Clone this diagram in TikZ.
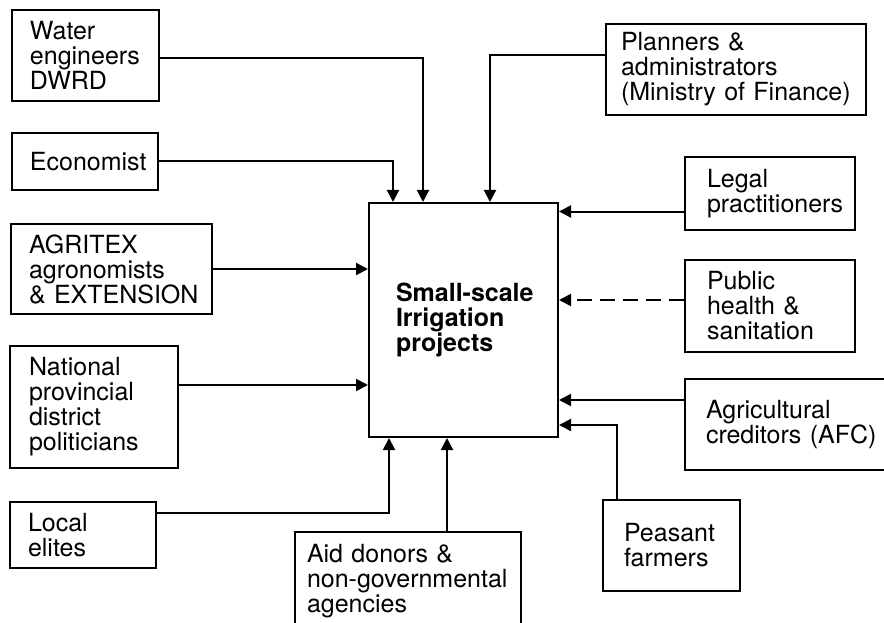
\documentclass[tikz,border=0pt]{standalone}
\usepackage{fontspec}
\setmainfont{TeX Gyre Heros}
\usetikzlibrary{arrows.meta}

\begin{document}
\begin{tikzpicture}[x=1pt,y=-1pt,line width=2pt,
    box/.style={draw,rectangle,anchor=north west,align=left,inner ysep=0pt,
      font=\fontsize{25}{25}\selectfont,
      execute at begin node={\hyphenpenalty=10000\exhyphenpenalty=10000}},
    feed/.style={-{Triangle[length=12pt,width=12pt]}}]
  \useasboundingbox (0,0) rectangle (884,623);

  % the projects in the middle
  \node[box,font=\fontsize{25}{25}\selectfont\bfseries,
        minimum width=189pt,minimum height=234pt,inner xsep=27pt,text width=135pt]
        (proj) at (368,202) {Small-scale\\Irrigation\\projects};

  % left column
  \node[box,minimum width=147pt,minimum height=91pt,inner xsep=18pt,text width=111pt]
        (water) at (11,9) {Water\\engineers\\DWRD};
  \node[box,minimum width=146pt,minimum height=57pt,inner xsep=18pt,text width=110pt]
        (econ) at (11,132) {Economist};
  \node[box,minimum width=201pt,minimum height=90pt,inner xsep=18pt,text width=165pt]
        (agri) at (10,223) {AGRITEX\\agronomists\\\&~EXTENSION};
  \node[box,minimum width=168pt,minimum height=122pt,inner xsep=19pt,text width=130pt]
        (nat) at (9,345) {National\\provincial\\district\\politicians};
  \node[box,minimum width=146pt,minimum height=66pt,inner xsep=18pt,text width=110pt]
        (local) at (9,501) {Local\\elites};

  % bottom
  \node[box,minimum width=226pt,minimum height=99pt,inner xsep=12pt,text width=202pt]
        (aid) at (294,531) {Aid~donors~\&\\non-governmental\\agencies};
  \node[box,minimum width=137pt,minimum height=91pt,inner xsep=21pt,text width=95pt]
        (peas) at (602,499) {Peasant\\farmers};

  % right column
  \node[box,minimum width=260pt,minimum height=91pt,inner xsep=15pt,text width=230pt]
        (plan) at (605,23) {Planners~\&\\administrators\\(Ministry~of~Finance)};
  \node[box,minimum width=170pt,minimum height=73pt,inner xsep=22pt,text width=126pt]
        (legal) at (684,156) {Legal\\practitioners};
  \node[box,minimum width=170pt,minimum height=92pt,inner xsep=22pt,text width=126pt]
        (pub) at (684,259) {Public\\health~\&\\sanitation};
  \node[box,minimum width=215pt,minimum height=91pt,inner xsep=21pt,text width=173pt]
        (agc) at (684,378) {Agricultural\\creditors~(AFC)};

  % entry points on the middle box
  \coordinate (inEcon) at ([xshift=25pt]proj.north west);
  \coordinate (inWater) at ([xshift=55pt]proj.north west);
  \coordinate (inPlan) at ([xshift=122pt]proj.north west);
  \coordinate (inLocal) at ([xshift=21pt]proj.south west);
  \coordinate (inAid) at ([xshift=79pt]proj.south west);
  \coordinate (inPeas) at ([yshift=13pt]proj.south east);

  % connectors
  \draw[feed] ([yshift=-3pt]water.east) -| (inWater);
  \draw[feed] (econ.east) -| (inEcon);
  \draw[feed] (agri.east) -- (agri.east -| proj.west);
  \draw[feed] ([yshift=22pt]nat.east) -- ([yshift=22pt]nat.east -| proj.west);
  \draw[feed] ([yshift=22pt]local.east) -| (inLocal);
  \draw[feed] (aid.north -| inAid) -- (inAid);
  \draw[feed] ([xshift=15pt]peas.north west) |- (inPeas);
  \draw[feed] ([yshift=24.5pt]agc.west) -- ([yshift=24.5pt]agc.west -| proj.east);
  \draw[feed,dash pattern=on 15pt off 8pt] ([yshift=6pt]pub.west) -- ([yshift=6pt]pub.west -| proj.east);
  \draw[feed] ([yshift=-18pt]legal.west) -- ([yshift=-18pt]legal.west -| proj.east);
  \draw[feed] ([yshift=14pt]plan.west) -| (inPlan);
\end{tikzpicture}
\end{document}
